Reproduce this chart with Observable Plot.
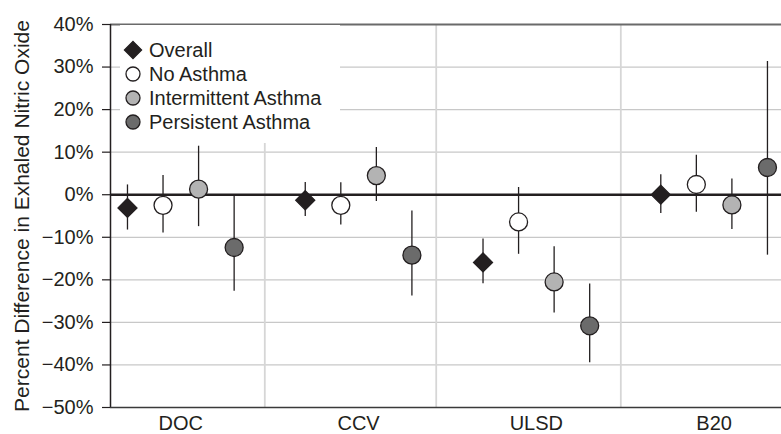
<!DOCTYPE html>
<html>
<head>
<meta charset="utf-8">
<script src="https://cdn.jsdelivr.net/npm/d3@7"></script>
<script src="https://cdn.jsdelivr.net/npm/@observablehq/plot@0.6"></script>
<style>
  html, body { margin: 0; padding: 0; background: #fff; }
  #wrap { position: relative; width: 781px; height: 434px; font-family: "Liberation Sans", Arial, Helvetica, sans-serif; color: #231f20; }
  #legend { position: absolute; left: 120px; top: 25px; width: 220px; height: 118px; background: #fff; }
</style>
</head>
<body>
<div id="wrap"></div>
<script>
// ---- data ----
const categories = ["DOC", "CCV", "ULSD", "B20"];
const seriesNames = ["Overall", "No Asthma", "Intermittent Asthma", "Persistent Asthma"];

const overallEst = [-3.1, -1.3, -15.9, 0.0];
const overallLo  = [-8.3, -5.1, -20.9, -4.4];
const overallHi  = [2.3, 2.9, -10.4, 4.7];

const noAsthmaEst = [-2.5, -2.5, -6.4, 2.4];
const noAsthmaLo  = [-9.0, -7.1, -14.0, -4.1];
const noAsthmaHi  = [4.5, 2.8, 1.7, 9.3];

const intermittentEst = [1.3, 4.5, -20.5, -2.4];
const intermittentLo  = [-7.5, -1.6, -27.8, -8.2];
const intermittentHi  = [11.4, 11.1, -12.2, 3.7];

const persistentEst = [-12.4, -14.2, -30.8, 6.4];
const persistentLo  = [-22.7, -23.8, -39.5, -14.2];
const persistentHi  = [-0.2, -3.8, -21.0, 31.3];

const yTicks = [-50, -40, -30, -20, -10, 0, 10, 20, 30, 40];
const separators = [1.4725, 2.4367, 3.4751];
const yTitle = "Percent Difference in Exhaled Nitric Oxide";

// ---- build table ----
const est = [overallEst, noAsthmaEst, intermittentEst, persistentEst];
const lo = [overallLo, noAsthmaLo, intermittentLo, persistentLo];
const hi = [overallHi, noAsthmaHi, intermittentHi, persistentHi];
const fills = ["#231f20", "#ffffff", "#b3b3b3", "#6b6b6b"];

const rows = [];
seriesNames.forEach((s, si) => {
  categories.forEach((c, ci) => {
    rows.push({series: s, si, category: c, x: ci + 1 + (si - 1.5) * 0.2,
               y: est[si][ci], lo: lo[si][ci], hi: hi[si][ci]});
  });
});
const diamonds = rows.filter(d => d.si === 0);
const circles = rows.filter(d => d.si !== 0);

const fmt = d => (d < 0 ? "\u2212" : "") + Math.abs(d) + "%";
const ink = "#231f20";

const chart = Plot.plot({
  width: 781,
  height: 434,
  marginLeft: 110,
  marginRight: 0,
  marginTop: 24,
  marginBottom: 27,
  style: {fontFamily: '"Liberation Sans", Arial, Helvetica, sans-serif', color: ink, background: "#fff", overflow: "visible"},
  x: {domain: [0.6045, 4.379]},
  y: {domain: [-50, 40]},
  color: {type: "ordinal", domain: seriesNames, range: fills},
  marks: [
    Plot.ruleY(yTicks.filter(t => t > -50 && t < 40 && t !== 0), {stroke: "#c8c8c8", strokeWidth: 1.2}),
    Plot.ruleX(separators, {stroke: "#d6d6d6", strokeWidth: 1.8}),
    Plot.ruleY([40], {stroke: "#6a6a6a", strokeWidth: 2.2}),
    Plot.axisY({ticks: yTicks, tickSize: 8, tickPadding: 9, tickFormat: fmt, fontSize: 20, label: null, stroke: ink, strokeWidth: 1.2}),
    Plot.axisX({ticks: [1, 2, 3, 4], tickSize: 0, tickPadding: 8, tickFormat: d => categories[d - 1], fontSize: 20, label: null}),
    Plot.ruleX([0.6045], {stroke: ink, strokeWidth: 1.5}),
    Plot.ruleY([-50], {stroke: "#3a3a3a", strokeWidth: 1.5}),
    Plot.ruleY([0], {stroke: ink, strokeWidth: 2.5}),
    Plot.text([yTitle], {frameAnchor: "left", textAnchor: "middle", lineAnchor: "middle", rotate: -90, dx: -88, fontSize: 21, fill: ink}),
    Plot.ruleX(rows, {x: "x", y1: "lo", y2: "hi", stroke: ink, strokeWidth: 1.3}),
    Plot.dot(diamonds, {x: "x", y: "y", symbol: "diamond2", r: 8.6, fill: "series", stroke: ink, strokeWidth: 1.2}),
    Plot.dot(circles, {x: "x", y: "y", r: 9, fill: "series", stroke: ink, strokeWidth: 1.3})
  ]
});

const wrap = document.getElementById("wrap");
wrap.appendChild(chart);

// ---- legend (overlay, white box) ----
const leg = d3.select(wrap).append("div").attr("id", "legend");
const lsvg = leg.append("svg").attr("width", 220).attr("height", 118)
  .style("font-family", '"Liberation Sans", Arial, Helvetica, sans-serif');
seriesNames.forEach((s, i) => {
  const g = lsvg.append("g").attr("transform", `translate(13,${25 + 24 * i})`);
  if (i === 0) {
    g.append("path").attr("d", d3.symbol(d3.symbolDiamond2, 190)()).attr("fill", fills[i]).attr("stroke", ink).attr("stroke-width", 1.2);
  } else {
    g.append("circle").attr("r", 7).attr("fill", fills[i]).attr("stroke", ink).attr("stroke-width", 1.3);
  }
  g.append("text").attr("x", 16).attr("dy", "0.36em").attr("font-size", 20).attr("fill", ink).text(s);
});
</script>
</body>
</html>
